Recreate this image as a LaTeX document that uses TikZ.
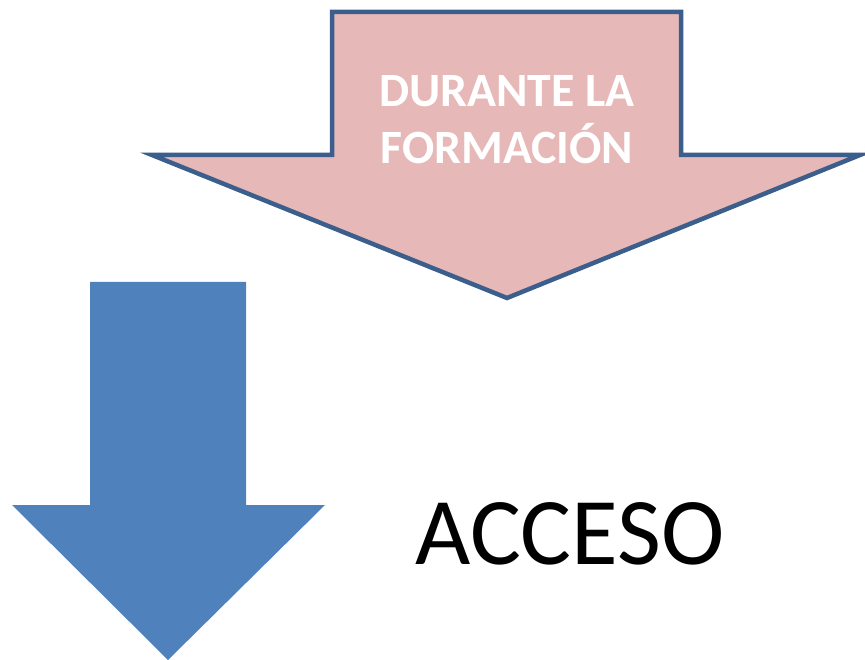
\documentclass[tikz,border=0pt]{standalone}
\usepackage{fontspec}
\setmainfont{Carlito}
\definecolor{pinkfill}{HTML}{E6B8B7}
\definecolor{pinkline}{HTML}{3B5E8C}
\definecolor{bluefill}{HTML}{4F81BD}
\tikzset{
  pinkarrow/.style={fill=pinkfill, draw=pinkline, line width=4.5pt, line join=miter},
  bluearrow/.style={fill=bluefill, draw=none},
  headtext/.style={text=white, font=\bfseries\fontsize{47.8}{57}\selectfont, anchor=base, inner sep=0pt},
  bigtext/.style={text=black, font=\fontsize{95.5}{114}\selectfont, anchor=base, inner sep=0pt}
}
\begin{document}
\begin{tikzpicture}[x=1pt,y=-1pt]
\useasboundingbox (0,0) rectangle (865,660);
% pink arrow
\draw[pinkarrow] (332,12) -- (681,12) -- (681,155) -- (860,155) -- (507,298) -- (152,155) -- (332,155) -- cycle;
% blue arrow
\fill[bluearrow] (90,282) -- (246,282) -- (246,505) -- (325,505) -- (168,660) -- (12,505) -- (90,505) -- cycle;
\node[headtext] (t1) at (507,107) {DURANTE LA};
\node[headtext] (t2) at (507,164) {FORMACIÓN};
\node[bigtext] (acc) at (570,564) {ACCESO};
\end{tikzpicture}
\end{document}
